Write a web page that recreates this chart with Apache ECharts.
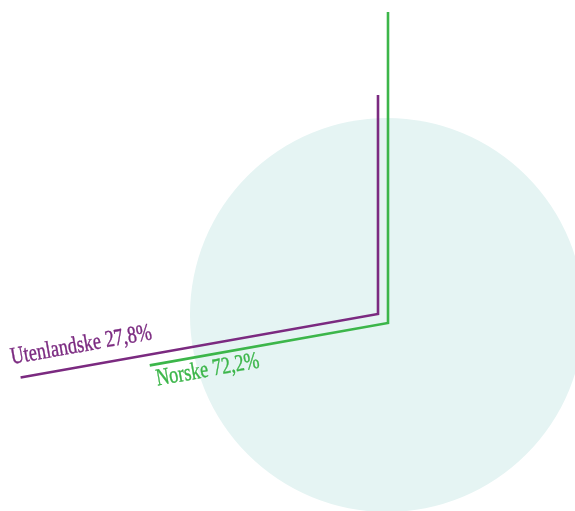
<!DOCTYPE html>
<html>
<head>
<meta charset="utf-8">
<style>
  html, body { margin: 0; padding: 0; background: #ffffff; }
  #chart { width: 575px; height: 511px; }
</style>
<script src="https://cdn.jsdelivr.net/npm/echarts@6/dist/echarts.min.js"></script>
</head>
<body>
<div id="chart"></div>
<script>
// Share of guests: Norwegian vs. foreign (percent)
const categories = ['Norske', 'Utenlandske'];
const shares = [72.2, 27.8];
const labelTexts = ['Norske 72,2%', 'Utenlandske 27,8%'];

// Look of the chart
const colors = ['#3cb64a', '#7b2a80'];
const discColor = '#e5f4f3';
const discCenter = [387, 315];
const discRadius = 197;
// each slice's edge lines start from its own corner point
const corners = [[388, 323], [378, 314]];
// [length of the edge at the slice start, length of the edge at the slice end]
const edgeLengths = [[311, 242], [363, 219]];
const labelFont = '24px "Liberation Serif", "Times New Roman", serif';
const labelScaleX = 0.76;

// cumulative start/end of every slice on a 0..100 scale
const sliceBounds = [];
let acc = 0;
shares.forEach(function (v) { sliceBounds.push([acc, acc + v]); acc += v; });

const polar = corners.map(function (c) { return { center: c, radius: 400 }; });
const angleAxis = corners.map(function (c, i) {
  return { polarIndex: i, type: 'value', min: 0, max: 100, startAngle: 90, clockwise: true, show: false };
});
const radiusAxis = corners.map(function (c, i) {
  return { polarIndex: i, type: 'value', min: 0, max: 400, show: false };
});

const series = [{
  type: 'pie',
  silent: true,
  center: discCenter,
  radius: discRadius,
  label: { show: false },
  labelLine: { show: false },
  itemStyle: { color: discColor },
  data: [{ name: 'total', value: 100 }],
  z: 1
}];

// Each slice is outlined by its two straight edges meeting at its corner;
// the larger share starts at 12 o'clock.
categories.forEach(function (name, i) {
  const b = sliceBounds[i];
  series.push({
    name: name,
    type: 'line',
    coordinateSystem: 'polar',
    polarIndex: i,
    symbol: 'none',
    silent: true,
    lineStyle: { color: colors[i], width: 2.6, join: 'miter', cap: 'butt' },
    data: [[edgeLengths[i][0], b[0]], [0, b[0]], [edgeLengths[i][1], b[1]]],
    z: 3
  });
});

const chart = echarts.init(document.getElementById('chart'), null, { renderer: 'canvas' });
chart.setOption({
  animation: false,
  backgroundColor: '#ffffff',
  polar: polar,
  angleAxis: angleAxis,
  radiusAxis: radiusAxis,
  series: series
});

// Labels sit along the edge that separates the two slices.
// offset along the edge, offset across it (negative = above), vertical anchor
const labelPlacement = [
  { along: 4, across: 3, valign: 'top' },
  { along: -6, across: -9, valign: 'bottom' }
];
const graphics = categories.map(function (name, i) {
  const b = sliceBounds[i];
  const endVal = i === 0 ? [edgeLengths[i][1], b[1]] : [edgeLengths[i][0], b[0]];
  const centerPx = chart.convertToPixel({ seriesIndex: i + 1 }, [0, b[1]]);
  const endPx = chart.convertToPixel({ seriesIndex: i + 1 }, endVal);
  const dx = centerPx[0] - endPx[0];
  const dy = centerPx[1] - endPx[1];
  const len = Math.sqrt(dx * dx + dy * dy);
  const ux = dx / len, uy = dy / len;          // along the edge, pointing inward
  const nx = -uy, ny = ux;                      // normal (pointing below the edge)
  const p = labelPlacement[i];
  const x = endPx[0] + ux * p.along + nx * p.across;
  const y = endPx[1] + uy * p.along + ny * p.across;
  return {
    type: 'text',
    x: x,
    y: y,
    rotation: Math.atan2(-dy, dx),
    scaleX: labelScaleX,
    silent: true,
    z: 10,
    style: {
      text: labelTexts[i],
      font: labelFont,
      fill: colors[i],
      stroke: colors[i],
      lineWidth: 0.4,
      textAlign: 'left',
      textVerticalAlign: p.valign
    }
  };
});
chart.setOption({ graphic: graphics });
</script>
</body>
</html>
